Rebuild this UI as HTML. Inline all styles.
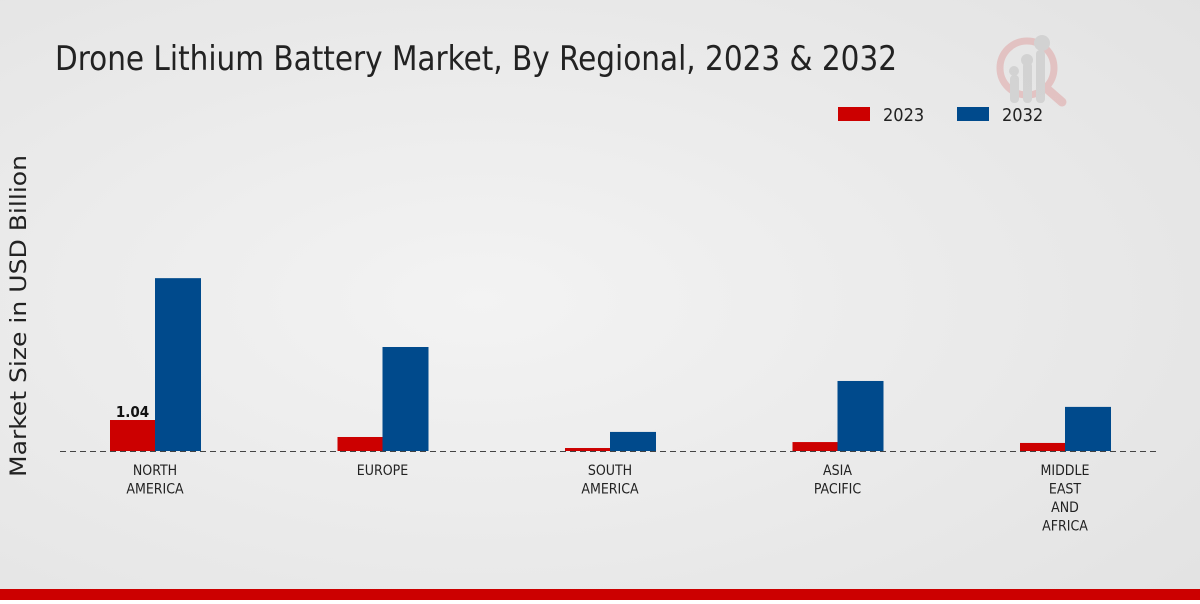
<!DOCTYPE html>
<html><head><meta charset="utf-8"><style>
body{margin:0;width:1200px;height:600px;overflow:hidden;font-family:"DejaVu Sans Condensed","DejaVu Sans","Liberation Sans",sans-serif;}
svg text{font-family:"DejaVu Sans Condensed","DejaVu Sans","Liberation Sans",sans-serif;}
</style></head><body>
<svg width="1200" height="600" xmlns="http://www.w3.org/2000/svg">
<defs><radialGradient id="bg" cx="0.4" cy="0.5" r="0.8"><stop offset="0" stop-color="#f3f3f3"/><stop offset="1" stop-color="#e2e2e2"/></radialGradient></defs>
<rect width="1200" height="600" fill="url(#bg)"/>
<rect y="589" width="1200" height="11" fill="#cc0000"/>
<text x="55" y="70" font-size="34" fill="#222" textLength="842" lengthAdjust="spacingAndGlyphs">Drone Lithium Battery Market, By Regional, 2023 &amp; 2032</text>
<g opacity="0.5">
<circle cx="1027" cy="68" r="27" fill="none" stroke="#e0a0a0" stroke-width="7"/>
<line x1="1046" y1="88" x2="1062" y2="102" stroke="#e0a0a0" stroke-width="9" stroke-linecap="round"/>
<rect x="1010" y="75" width="9" height="28" rx="4" fill="#c0c0c0"/><rect x="1023" y="62" width="9" height="41" rx="4" fill="#c0c0c0"/><rect x="1036" y="50" width="9" height="53" rx="4" fill="#c0c0c0"/>
<circle cx="1014" cy="71" r="5" fill="#c0c0c0"/><circle cx="1027" cy="60" r="6" fill="#c0c0c0"/><circle cx="1042" cy="43" r="8" fill="#c0c0c0"/>
</g>
<g>
<rect x="838" y="107" width="32" height="14" fill="#cc0000"/>
<text x="883" y="121" font-size="18" fill="#222">2023</text>
<rect x="957" y="107" width="32" height="14" fill="#004a8c"/>
<text x="1002" y="121" font-size="18" fill="#222">2032</text>
</g>
<text transform="translate(26,316) rotate(-90)" text-anchor="middle" font-size="22" fill="#222" textLength="322" lengthAdjust="spacingAndGlyphs">Market Size in USD Billion</text>
<g id="plot"></g>
<line x1="60" y1="451.5" x2="1160" y2="451.5" stroke="#444" stroke-dasharray="6,4"/>
</svg>
<script>
const categories=[["NORTH","AMERICA"],["EUROPE"],["SOUTH","AMERICA"],["ASIA","PACIFIC"],["MIDDLE","EAST","AND","AFRICA"]];
const values2023=[1.04,0.47,0.1,0.3,0.27];
const values2032=[5.8,3.49,0.64,2.35,1.48];
const ns="http://www.w3.org/2000/svg";
const g=document.getElementById('plot');
const base=451, scale=29.8;
const y=v=>base-v*scale;
const xc=i=>155+i*227.5;
function mk(t,a){const e=document.createElementNS(ns,t);for(const k in a)e.setAttribute(k,a[k]);g.appendChild(e);return e;}
categories.forEach((c,i)=>{
 let r=mk('rect',{x:xc(i)-45,y:y(values2023[i]),width:45,height:values2023[i]*scale,fill:'#cc0000'});
 
 
 let b=mk('rect',{x:xc(i),y:y(values2032[i]),width:46,height:values2032[i]*scale,fill:'#004a8c'});
 
 
 c.forEach((ln,j)=>{
  let t=mk('text',{x:xc(i),y:475+j*18.5,'text-anchor':'middle','font-size':14,fill:'#222'});
  t.textContent=ln;
  
  
 });
});
let l=mk('text',{x:xc(0)-22.5,y:y(values2023[0])-3,'text-anchor':'middle','font-size':15,'font-weight':'bold',fill:'#111'});
l.textContent=values2023[0].toFixed(2);


</script>
</body></html>
